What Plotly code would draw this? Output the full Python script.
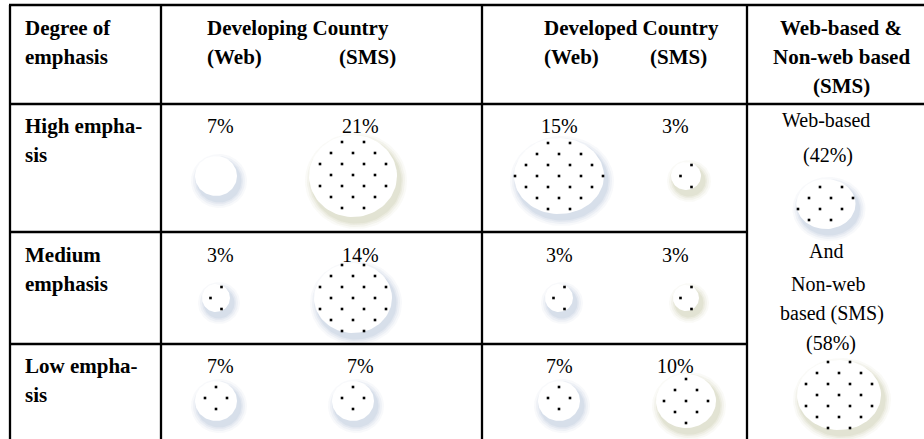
import numpy as np
import plotly.graph_objects as go

# ---------------- data ----------------
row_names = ["High emphasis", "Medium emphasis", "Low emphasis"]
row_label_lines = [["High empha-", "sis"], ["Medium", "emphasis"], ["Low empha-", "sis"]]
col_groups = ["Developing Country", "Developed Country"]
col_media = ["(Web)", "(SMS)"]
developing_web = [7, 3, 7]
developing_sms = [21, 14, 7]
developed_web = [15, 3, 7]
developed_sms = [3, 3, 10]
overall_labels = ["Web-based", "Non-web based (SMS)"]
overall_values = [42, 58]
header_first = ["Degree of", "emphasis"]
header_last = ["Web-based &", "Non-web based", "(SMS)"]

# ---------------- layout / style ----------------
W, H = 924, 439
FONT = "Liberation Serif"
FSB = 21   # bold
FS = 20    # regular
col_x = [216, 353, 559, 686]          # bubble centres per column
label_x = [220, 360, 559, 675]        # percentage label centres
row_bubble_y = [176, 298, 401]
row_label_base = [133, 262, 373]      # baseline of the first text line in a row
radii = [[(21, 20), (44, 41), (45, 38), (15, 14)],
         [(14, 14), (39, 35), (14, 14), (13, 13)],
         [(21, 20), (21, 20), (21, 20), (30, 27)]]
dotted = [[False, True, True, True],
          [True, True, True, True],
          [True, True, True, True]]
dot_base = [[(0, 0), (0, -1), (0, 0), (-5.5, 0)],
            [(-5.5, 0), (0, 0), (-5.5, 0), (-5.5, 0)],
            [(0, 8), (0, 8), (0, 8), (0, 0)]]
BLUE = (120, 145, 185)
OLIVE = (150, 160, 105)
shadow = [[BLUE, OLIVE, BLUE, OLIVE],
          [BLUE, BLUE, BLUE, OLIVE],
          [BLUE, BLUE, BLUE, OLIVE]]
overall_center = [(826, 204), (839, 395)]
overall_radii = [(29.5, 25), (42, 35)]
overall_dot_base = [(-6, -17), (0, 0)]
overall_shadow = [BLUE, OLIVE]
STEP = 11

fig = go.Figure()
t = np.linspace(0, 2 * np.pi, 90)
dot_x, dot_y = [], []


def bubble(cx, cy, rx, ry, dots, base, shcol):
    for s, a in [(7, 0.05), (5, 0.07), (3, 0.09), (1.5, 0.1)]:
        fig.add_trace(go.Scatter(
            x=cx + 3 + (rx + s) * np.cos(t), y=cy + 5 + (ry + s) * np.sin(t),
            mode="lines", fill="toself", line=dict(width=0),
            fillcolor="rgba(%d,%d,%d,%.2f)" % (shcol + (a,)),
            hoverinfo="skip", showlegend=False))
    fig.add_trace(go.Scatter(
        x=cx + rx * np.cos(t), y=cy + ry * np.sin(t),
        mode="lines", fill="toself", fillcolor="white",
        line=dict(width=0, color="white"),
        hoverinfo="skip", showlegend=False))
    if dots:
        n = int(max(rx, ry) / STEP) + 3
        for i in range(-n, n + 1):
            for j in range(-n, n + 1):
                if (i + j) % 2:
                    continue
                dx = base[0] + STEP * i
                dy = base[1] + STEP * j
                if (dx / rx) ** 2 + (dy / ry) ** 2 <= 1.0:
                    dot_x.append(cx + dx)
                    dot_y.append(cy + dy)


values = [developing_web, developing_sms, developed_web, developed_sms]
annotations = []


def txt(x, y_base, s, bold=False, anchor="center"):
    fs = FSB if bold else FS
    annotations.append(dict(
        x=x, y=y_base - 0.34 * fs, text=("<b>%s</b>" % s) if bold else s,
        xanchor=anchor, yanchor="middle", showarrow=False,
        font=dict(family=FONT, size=fs, color="black")))


for r in range(len(row_names)):
    for c in range(4):
        rx, ry = radii[r][c]
        bubble(col_x[c], row_bubble_y[r], rx, ry, dotted[r][c], dot_base[r][c], shadow[r][c])
        txt(label_x[c], row_label_base[r], "%d%%" % values[c][r])
    txt(23, row_label_base[r], row_label_lines[r][0], bold=True, anchor="left")
    txt(23, row_label_base[r] + 29, row_label_lines[r][1], bold=True, anchor="left")

for (cx, cy), (rx, ry), b, sc in zip(overall_center, overall_radii, overall_dot_base, overall_shadow):
    bubble(cx, cy, rx, ry, True, b, sc)

fig.add_trace(go.Scatter(x=dot_x, y=dot_y, mode="markers",
                         marker=dict(symbol="square", size=2.6, color="black", line=dict(width=0)),
                         hoverinfo="skip", showlegend=False))

# header
txt(23, 35, header_first[0], bold=True, anchor="left")
txt(23, 64, header_first[1], bold=True, anchor="left")
txt(205, 35, col_groups[0], bold=True, anchor="left")
txt(205, 64, col_media[0], bold=True, anchor="left")
txt(337, 64, col_media[1], bold=True, anchor="left")
txt(542, 35, col_groups[1], bold=True, anchor="left")
txt(542, 64, col_media[0], bold=True, anchor="left")
txt(648, 64, col_media[1], bold=True, anchor="left")
for i, s in enumerate(header_last):
    txt(841, 35 + 29 * i, s, bold=True)

# right column text
non_web = overall_labels[1].split(" ")
txt(826, 127, overall_labels[0])
txt(828, 162, "(%d%%)" % overall_values[0])
txt(826, 258, "And")
txt(828, 291, non_web[0])
txt(832, 320, " ".join(non_web[1:]))
txt(831, 350, "(%d%%)" % overall_values[1])

# table rules (paper-referenced so nothing is clipped)
shapes = []


def line(x0, y0, x1, y1):
    shapes.append(dict(type="line", xref="paper", yref="paper",
                       x0=x0 / W, y0=1 - y0 / H, x1=x1 / W, y1=1 - y1 / H,
                       line=dict(color="black", width=2.3), layer="above"))


line(9, 5, W, 5)
line(10, 5, 10, H)
line(161, 5, 161, H)
line(482, 5, 482, H)
line(747, 5, 747, H)
line(10, 104, W, 104)
line(10, 232, 747, 232)
line(10, 344, 747, 344)

fig.update_layout(
    width=W, height=H, margin=dict(l=0, r=0, t=0, b=0),
    paper_bgcolor="white", plot_bgcolor="white",
    xaxis=dict(range=[0, W], visible=False, fixedrange=True),
    yaxis=dict(range=[H, 0], visible=False, fixedrange=True),
    annotations=annotations, shapes=shapes, showlegend=False)

fig.write_html("out.html", config={"displayModeBar": False, "staticPlot": True},
               post_script="document.body.style.margin='0';document.body.style.overflow='hidden';")
